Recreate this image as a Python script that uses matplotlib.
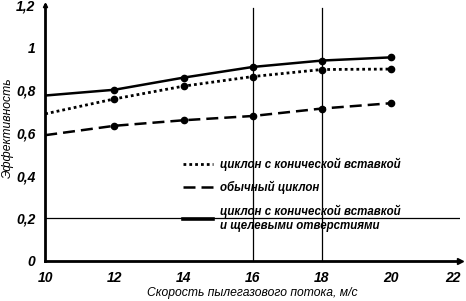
import matplotlib.pyplot as plt
from matplotlib.lines import Line2D

# скорость пылегазового потока, м/с
speed = [10, 12, 14, 16, 18, 20]

# эффективность
conic = [0.69, 0.76, 0.82, 0.865, 0.898, 0.90]
ordinary = [0.59, 0.634, 0.66, 0.68, 0.715, 0.74]
conic_slots = [0.776, 0.803, 0.86, 0.91, 0.94, 0.955]

x_ticks = [10, 12, 14, 16, 18, 20, 22]
y_ticks = [0, 0.2, 0.4, 0.6, 0.8, 1.0, 1.2]
y_tick_labels = ["0", "0,2", "0,4", "0,6", "0,8", "1", "1,2"]

legend_labels = [
    "циклон с конической вставкой",
    "обычный циклон",
    "циклон с конической вставкой\nи щелевыми отверстиями",
]

plt.rcParams["font.family"] = ["Liberation Sans", "DejaVu Sans"]

fig = plt.figure(figsize=(4.66, 3.01), dpi=100)
ax = fig.add_axes([0.097, 0.133, 0.891, 0.85])

dotted = (0, (1, 1.1))
dashed = (0, (4.8, 2.4))

# first point (x=10) has no marker
ax.plot(speed, conic, color="black", lw=2, ls=dotted)
ax.plot(speed[1:], conic[1:], "o", color="black", ms=4.5)
ax.plot(speed, ordinary, color="black", lw=1.8, ls=dashed)
ax.plot(speed[1:], ordinary[1:], "o", color="black", ms=4.5)
ax.plot(speed, conic_slots, color="black", lw=1.8)
ax.plot(speed[1:], conic_slots[1:], "o", color="black", ms=4.5)

ax.axhline(0.2, color="black", lw=0.9)
for xv in (16, 18):
    ax.plot([xv, xv], [0, 1.185], color="black", lw=0.9)

ax.set_xlim(10, 22)
ax.set_ylim(0, 1.2)
ax.set_xticks(x_ticks)
ax.set_xticklabels([str(v) for v in x_ticks])
ax.set_yticks(y_ticks)
ax.set_yticklabels(y_tick_labels)
ax.tick_params(length=0, pad=7)
for lab in ax.get_xticklabels() + ax.get_yticklabels():
    lab.set_fontstyle("italic")
    lab.set_fontweight("bold")
    lab.set_fontsize(10)
ax.get_xticklabels()[-1].set_horizontalalignment("right")

for side in ("top", "right"):
    ax.spines[side].set_visible(False)
ax.spines["left"].set_linewidth(2)
ax.spines["bottom"].set_linewidth(2)
ax.plot(1.0, 0, ">", transform=ax.transAxes, color="black", ms=4, clip_on=False)
ax.plot(0, 1.0, "^", transform=ax.transAxes, color="black", ms=3, clip_on=False)

ax.set_xlabel("Скорость пылегазового потока, м/с", fontsize=8.7,
              fontstyle="italic", labelpad=2)
ax.set_ylabel("Эффективность", fontsize=8.7, fontstyle="italic", labelpad=2)
ax.yaxis.set_label_coords(-0.075, 0.52)

handles = [
    Line2D([], [], color="black", lw=2, ls=dotted),
    Line2D([], [], color="black", lw=1.8, ls=dashed),
    Line2D([], [], color="black", lw=2.6),
]
leg = ax.legend(handles, legend_labels, loc="upper left",
                bbox_to_anchor=(0.318, 0.425), frameon=False, handlelength=2.6,
                handletextpad=0.6, labelspacing=0.85, borderpad=0,
                prop={"size": 8.3, "style": "italic", "weight": "bold"})
for t in leg.get_texts():
    t.set_linespacing(1.3)

fig.savefig("out.png", dpi=100)
